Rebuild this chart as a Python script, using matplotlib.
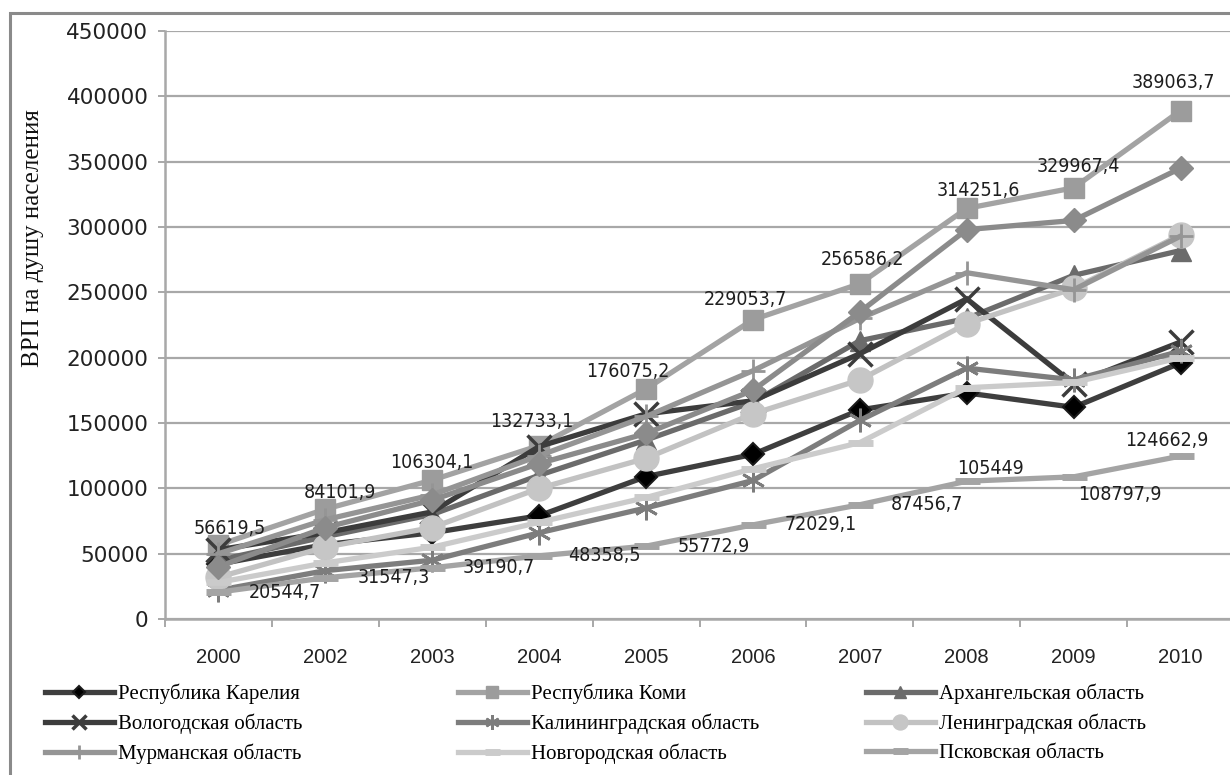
import matplotlib
matplotlib.use("Agg")
import matplotlib.pyplot as plt
from matplotlib.patches import Rectangle
import numpy as np

# ---------------- data ----------------
years = ["2000", "2002", "2003", "2004", "2005", "2006", "2007", "2008", "2009", "2010"]

karelia     = [42000, 57000, 66000, 79000, 109000, 126000, 160000, 173000, 162000, 196000]
komi        = [56619.5, 84101.9, 106304.1, 132733.1, 176075.2, 229053.7, 256586.2, 314251.6, 329967.4, 389063.7]
arkhangelsk = [45000, 63000, 80000, 110000, 137000, 166000, 213000, 230000, 263000, 282000]
vologda     = [53000, 66000, 82000, 132000, 157000, 167000, 203000, 245000, 180000, 212000]
kaliningrad = [22000, 37000, 45000, 66000, 85000, 106000, 152000, 192000, 183000, 205000]
leningrad   = [32000, 55000, 70000, 100000, 123000, 157000, 183000, 226000, 253000, 294000]
murmansk    = [50000, 76000, 95000, 125000, 155000, 190000, 230000, 265000, 252000, 293000]
novgorod    = [28000, 43000, 55000, 74000, 93000, 115000, 135000, 177000, 181000, 200000]
pskov       = [20544.7, 31547.3, 39190.7, 48358.5, 55772.9, 72029.1, 87456.7, 105449, 108797.9, 124662.9]
spb         = [40000, 70000, 91000, 119000, 142000, 175000, 235000, 298000, 305000, 345000]

names = ["Республика Карелия", "Республика Коми", "Архангельская область",
         "Вологодская область", "Калининградская область", "Ленинградская область",
         "Мурманская область", "Новгородская область", "Псковская область",
         "г. Санкт-Петербург"]
series = [karelia, komi, arkhangelsk, vologda, kaliningrad, leningrad,
          murmansk, novgorod, pskov, spb]

komi_labels = ["56619,5", "84101,9", "106304,1", "132733,1", "176075,2",
               "229053,7", "256586,2", "314251,6", "329967,4", "389063,7"]
pskov_labels = ["20544,7", "31547,3", "39190,7", "48358,5", "55772,9",
                "72029,1", "87456,7", "105449", "108797,9", "124662,9"]

# ---------------- styles ----------------
# (line color, marker, markersize, marker face, marker edge, mew)
styles = [
    ("#3e3e3e", "D", 11, "#000000", "#1a1a1a", 1.5),
    ("#a3a3a3", "s", 15, "#9c9c9c", "#9c9c9c", 1.0),
    ("#6b6b6b", "^", 14, "#6b6b6b", "#6b6b6b", 1.0),
    ("#3c3c3c", "x", 17, "#3c3c3c", "#3c3c3c", 2.5),
    ("#7d7d7d", (6, 2, 0), 17, "#7d7d7d", "#7d7d7d", 2.0),
    ("#c2c2c2", "o", 18, "#c6c6c6", "#c6c6c6", 1.0),
    ("#959595", "+", 17, "#959595", "#959595", 2.0),
    ("#cbcbcb", "_", 18, "#cbcbcb", "#cbcbcb", 5.0),
    ("#a4a4a4", "_", 18, "#a4a4a4", "#a4a4a4", 5.0),
    ("#8b8b8b", "D", 12.5, "#8b8b8b", "#8b8b8b", 1.0),
]

W, H = 1230, 775
fig = plt.figure(figsize=(W / 100, H / 100), dpi=100)
fig.patch.set_facecolor("white")

# outer chart frame (right/bottom parts fall outside the picture)
fig.patches.append(Rectangle((10 / W, -0.2), 1.5, (H - 13) / H + 0.2,
                             transform=fig.transFigure, fill=False,
                             ec="#8a8a8a", lw=2.2))

ax = fig.add_axes([165 / W, 1 - 619 / H, (1234 - 165) / W, 588 / H])
x = np.arange(len(years))

handles = []
for i, (vals, name, st) in enumerate(zip(series, names, styles)):
    col, mk, ms, mfc, mec, mew = st
    (ln,) = ax.plot(x, vals, color=col, lw=3.8, marker=mk, markersize=ms,
                    markerfacecolor=mfc, markeredgecolor=mec, markeredgewidth=mew,
                    solid_joinstyle="miter", zorder=3 + i * 0.1, label=name)
    handles.append(ln)

ax.set_xlim(-0.5, len(years) - 0.5)
ax.set_ylim(0, 450000)
ax.set_yticks(np.arange(0, 450001, 50000))
ax.set_xticks(x)
ax.set_xticklabels(years)
ax.set_xticks(np.arange(-0.5, len(years), 1.0), minor=True)

ax.grid(axis="y", color="#a8a8a8", lw=1.6, zorder=1)
ax.set_axisbelow(True)
for s in ["top", "right"]:
    ax.spines[s].set_visible(False)
ax.spines["left"].set_color("#a8a8a8")
ax.spines["left"].set_linewidth(1.8)
ax.spines["bottom"].set_color("#a8a8a8")
ax.spines["bottom"].set_linewidth(1.8)

ax.tick_params(axis="y", which="major", length=5, width=1.4, color="#a8a8a8",
               labelsize=15.5, pad=7, labelcolor="#222222")
ax.tick_params(axis="x", which="major", length=0, pad=21, labelsize=14.5,
               labelcolor="#222222")
ax.tick_params(axis="x", which="minor", length=6, width=1.4, color="#a8a8a8")
for lab in ax.get_yticklabels():
    lab.set_family("DejaVu Sans")
for lab in ax.get_xticklabels():
    lab.set_family("Liberation Sans")

# data labels
lab_font = dict(family="DejaVu Sans", fontstretch="condensed", fontsize=14,
                color="#1e1e1e")
px = 0.72  # pixel -> point
komi_off = [(11, 17), (15, 17), (0, 18), (-7, 24), (-18, 17),
            (-8, 20), (3, 24), (12, 18), (5, 21), (-7, 28)]
for i, (v, t) in enumerate(zip(komi, komi_labels)):
    dx, dy = komi_off[i]
    ax.annotate(t, (x[i], v), xytext=(dx * px, dy * px), textcoords="offset points",
                ha="center", va="center", zorder=10, **lab_font)

pskov_off = [(30, 0, "left"), (32, 0, "left"), (30, 0, "left"), (29, 0, "left"),
             (32, 0, "left"), (32, 0, "left"), (31, 0, "left"),
             (24, 13, "center"), (46, -18, "center"), (-14, 16, "center")]
for i, (v, t) in enumerate(zip(pskov, pskov_labels)):
    dx, dy, ha = pskov_off[i]
    ax.annotate(t, (x[i], v), xytext=(dx * px, dy * px), textcoords="offset points",
                ha=ha, va="center", zorder=10, **lab_font)

# y axis title
fig.text(33 / W, 1 - 238 / H, "ВРП на душу населения", rotation=90,
         ha="center", va="center", family="Liberation Serif", fontsize=18,
         color="#111111")

# legend: three columns, row-major order of the first nine series
col_x = [45 / W, 458 / W, 866 / W]
for c in range(3):
    hs = [handles[r * 3 + c] for r in range(3)]
    fig.legend(hs, [h.get_label() for h in hs], loc="upper left",
               bbox_to_anchor=(col_x[c], 1 - 684 / H), frameon=False,
               prop=dict(family="Liberation Serif", size=15),
               handlelength=3.3, handletextpad=0.2, labelspacing=0.45,
               borderaxespad=0, borderpad=0, markerscale=0.6)

fig.savefig("out.png", dpi=100, facecolor="white")
